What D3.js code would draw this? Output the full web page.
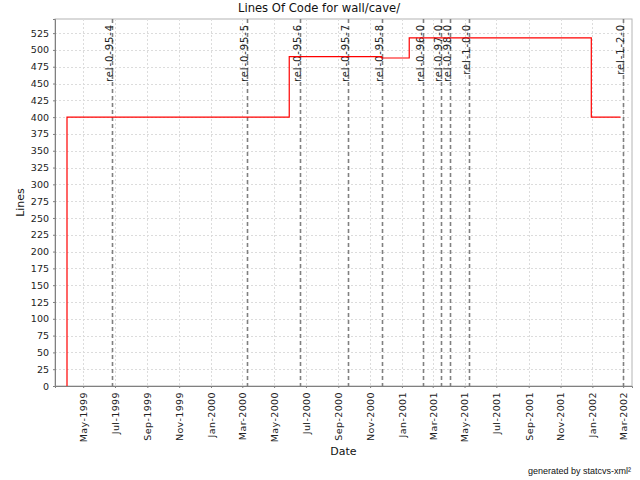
<!DOCTYPE html>
<html><head><meta charset="utf-8">
<script src="https://cdn.jsdelivr.net/npm/d3@7"></script>
<style>
html,body{margin:0;padding:0;background:#fff;}
svg{display:block;font-family:"DejaVu Sans",sans-serif;}
</style></head>
<body>
<svg id="chart" width="640" height="480"></svg>
<script>
// ---- data ----
const stepDates = ["1999-03-30","1999-03-31","2000-05-30","2000-11-23","2001-01-15","2001-12-30","2002-02-24"];
const stepLines = [0, 400, 490, 488, 518, 400, 400];
const tagNames = ["rel-0-95-4","rel-0-95-5","rel-0-95-6","rel-0-95-7","rel-0-95-8","rel-0-96-0","rel-0-97-0","rel-0-98-0","rel-1-0-0","rel-1-2-0"];
const tagDates = ["1999-06-26","2000-03-10","2000-06-19","2000-09-20","2000-11-24","2001-02-10","2001-03-17","2001-04-03","2001-05-10","2002-02-28"];
const xTickMonths = ["1999-05","1999-07","1999-09","1999-11","2000-01","2000-03","2000-05","2000-07","2000-09","2000-11","2001-01","2001-03","2001-05","2001-07","2001-09","2001-11","2002-01","2002-03"];
const yTicks = d3.range(0, 526, 25);
const titleText = "Lines Of Code for wall/cave/";
const xLabel = "Date", yLabel = "Lines";
const footer = "generated by statcvs-xml\u00b2";

const parseDay = d3.timeParse("%Y-%m-%d");
const parseMonth = d3.timeParse("%Y-%m");
const fmt = d3.timeFormat("%b-%Y");

const L = 55, R = 632, T = 19, B = 386;
const svg = d3.select("#chart");

const x = d3.scaleTime().domain([parseDay("1999-03-08"), parseDay("2002-03-18")]).range([L, R]);
const y = d3.scaleLinear().domain([0, 546]).range([B, T]);

// plot background + border
svg.append("rect").attr("x", L).attr("y", T).attr("width", R - L).attr("height", B - T)
  .attr("fill", "#fff").attr("stroke", "#b4b4b4").attr("stroke-width", 1);

// grid
const gx = svg.append("g").attr("stroke", "#dcdcdc").attr("stroke-dasharray", "2,2").attr("stroke-width", 1);
xTickMonths.forEach(m => {
  const xx = Math.round(x(parseMonth(m))) + 0.5;
  gx.append("line").attr("x1", xx).attr("x2", xx).attr("y1", T).attr("y2", B);
});
yTicks.forEach(v => {
  const yy = Math.round(y(v)) + 0.5;
  gx.append("line").attr("x1", L).attr("x2", R).attr("y1", yy).attr("y2", yy);
});

// tag markers
const tags = tagNames.map((n, i) => ({name: n, date: parseDay(tagDates[i])}));
const tg = svg.append("g");
tags.forEach(t => {
  const xx = Math.round(x(t.date)) + 0.5;
  tg.append("line").attr("x1", xx).attr("x2", xx).attr("y1", T).attr("y2", B)
    .attr("stroke", "#808080").attr("stroke-width", 1.6).attr("stroke-dasharray", "4,3");
  tg.append("text").attr("transform", `translate(${xx + 0.5},${T + 5}) rotate(-90)`)
    .attr("text-anchor", "end").attr("font-size", 10).attr("letter-spacing", 0.9).attr("fill", "#222").text(t.name);
});

// step line
const pts = stepDates.map((d, i) => ({date: parseDay(d), v: stepLines[i]}));
svg.append("path").datum(pts)
  .attr("d", d3.line().x(d => x(d.date)).y(d => y(d.v)).curve(d3.curveStepAfter))
  .attr("fill", "none").attr("stroke", "#ff0000").attr("stroke-width", 1.2);

// axes
const xAxis = d3.axisBottom(x).tickValues(xTickMonths.map(parseMonth)).tickFormat(fmt).tickSizeOuter(0).tickSize(2);
const gX = svg.append("g").attr("transform", `translate(0,${B})`).call(xAxis);
gX.select(".domain").attr("stroke", "#808080");
gX.selectAll(".tick line").attr("stroke", "#808080");
gX.selectAll(".tick text").attr("font-family", "DejaVu Sans").attr("font-size", 9.5).attr("letter-spacing", 0.4).attr("fill", "#222")
  .attr("text-anchor", "end").attr("transform", "rotate(-90)").attr("x", -6).attr("y", 0).attr("dy", "0.35em");

const yAxis = d3.axisLeft(y).tickValues(yTicks).tickSizeOuter(0).tickSize(2);
const gY = svg.append("g").attr("transform", `translate(${L},0)`).call(yAxis);
gY.select(".domain").attr("stroke", "#808080");
gY.selectAll(".tick line").attr("stroke", "#808080");
gY.selectAll(".tick text").attr("font-family", "DejaVu Sans").attr("font-size", 9.5).attr("fill", "#222").attr("x", -6);

// labels
svg.append("text").attr("x", 319).attr("y", 12).attr("text-anchor", "middle").attr("font-size", 11.6).attr("fill", "#111").text(titleText);
svg.append("text").attr("x", (L + R) / 2).attr("y", 455).attr("text-anchor", "middle").attr("font-size", 11).attr("fill", "#111").text(xLabel);
svg.append("text").attr("transform", `translate(24,${(T + B) / 2}) rotate(-90)`).attr("text-anchor", "middle").attr("font-size", 11).attr("fill", "#111").text(yLabel);
svg.append("text").attr("x", 631).attr("y", 474).attr("text-anchor", "end").attr("font-family", "Liberation Sans").attr("font-size", 9).attr("fill", "#111").text(footer);
</script>
</body></html>
